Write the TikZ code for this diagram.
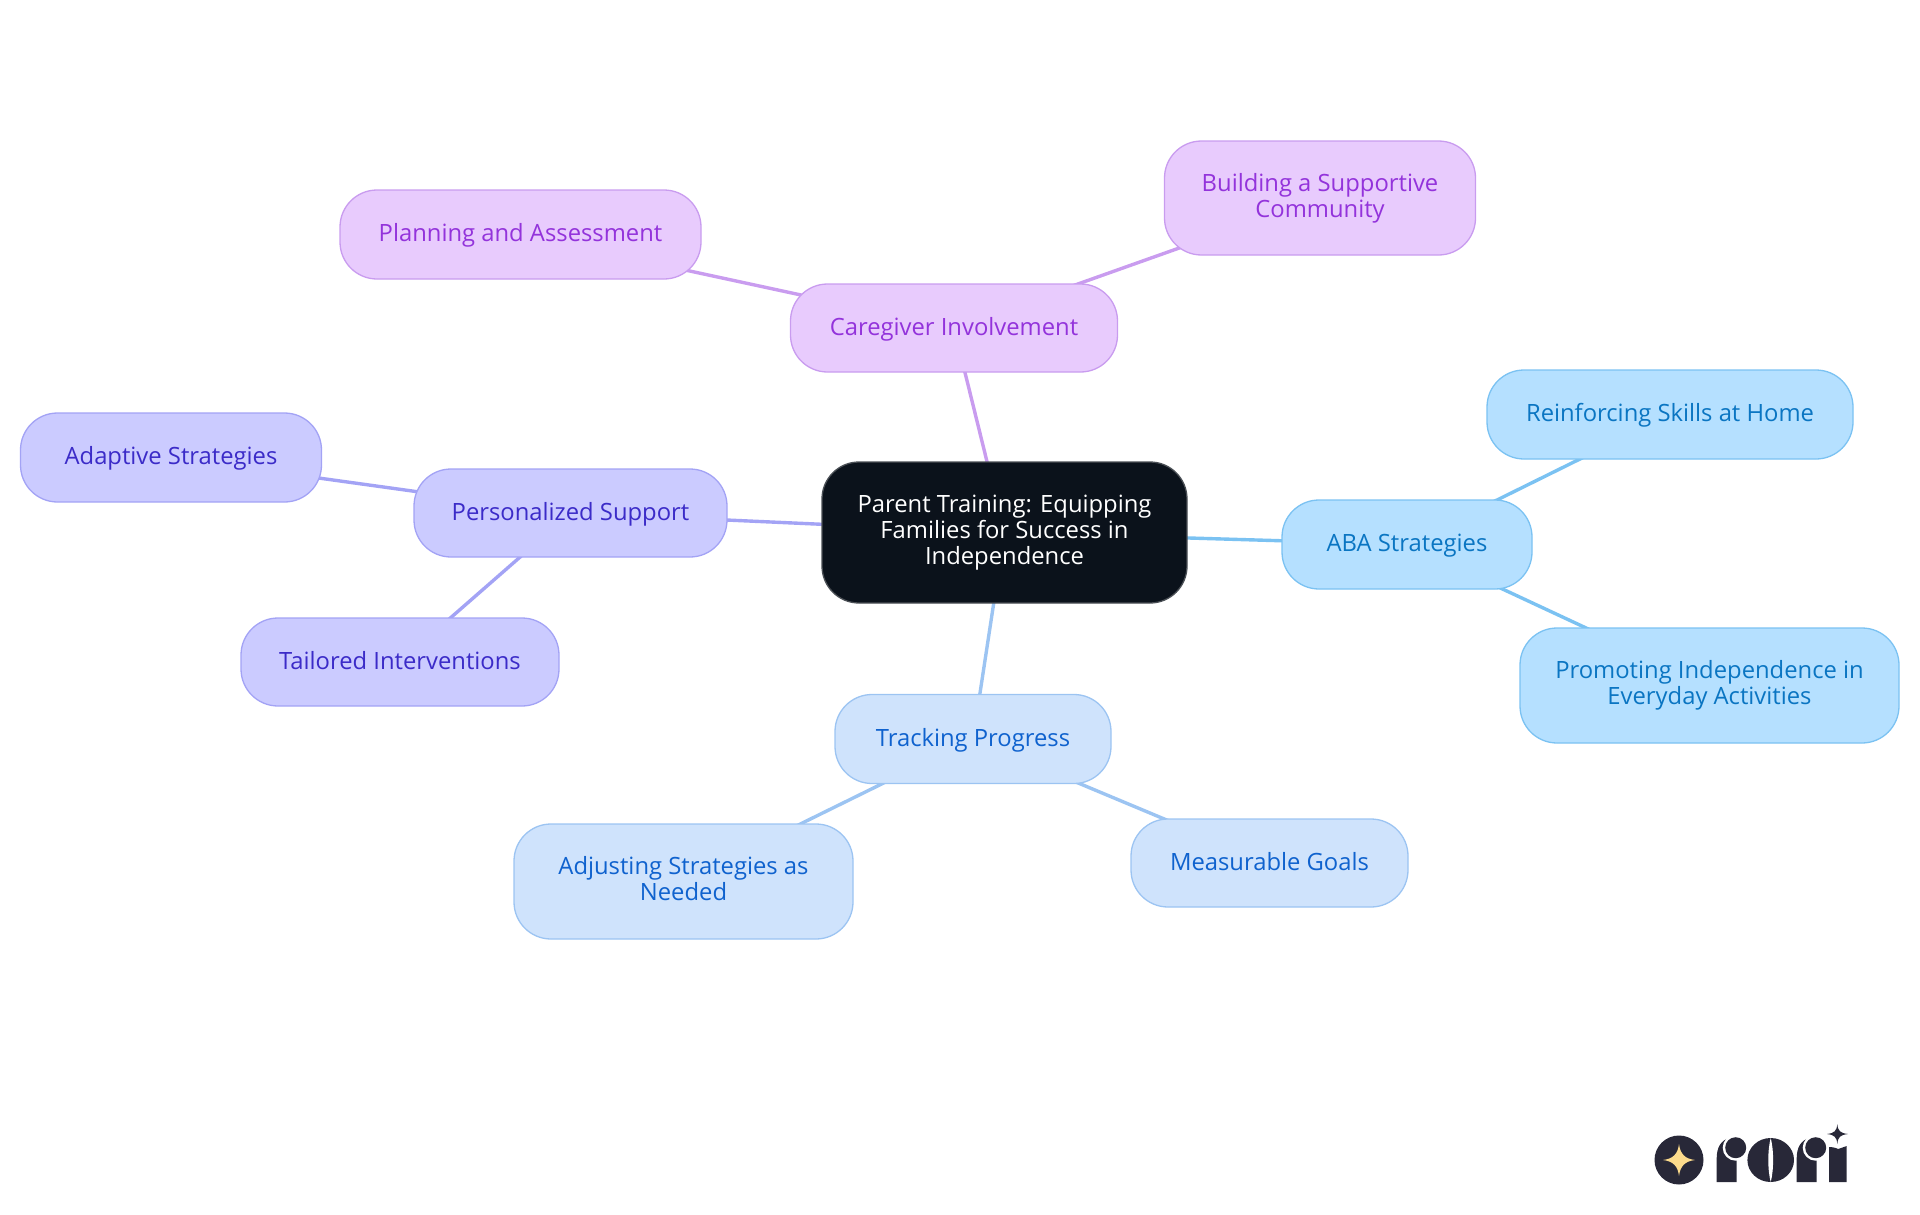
\documentclass[tikz,border=0pt]{standalone}
\usepackage{fontspec}
\setmainfont{Open Sans}
\usepackage{tikz}
\usetikzlibrary{shapes, backgrounds}
\definecolor{rootfill}{HTML}{0B121B}
\definecolor{rootdraw}{HTML}{4A4F55}
\definecolor{pinkfill}{HTML}{E8CBFD}
\definecolor{pinkdraw}{HTML}{C99CEF}
\definecolor{pinktext}{HTML}{9333DB}
\definecolor{violetfill}{HTML}{CBCBFF}
\definecolor{violetdraw}{HTML}{A3A3F5}
\definecolor{violettext}{HTML}{3B2BC8}
\definecolor{skyfill}{HTML}{B5E0FF}
\definecolor{skydraw}{HTML}{7BC2F2}
\definecolor{skytext}{HTML}{0A75C2}
\definecolor{bluefill}{HTML}{CFE3FC}
\definecolor{bluedraw}{HTML}{9CC4F2}
\definecolor{bluetext}{HTML}{0F62CE}
\definecolor{logodark}{HTML}{282838}
\definecolor{logostar}{HTML}{FCDB8C}
\newcommand{\mstrut}{\rule[-5.6pt]{0pt}{25.6pt}}
\tikzstyle{mnode} = [draw, rounded corners = 37pt, line width = 1.3pt, inner sep = 0pt, align = center, font = \fontsize{23.8}{26}\selectfont, execute at begin node = \mstrut, execute at end node = \mstrut]
\tikzstyle{root} = [mnode, fill = rootfill, draw = rootdraw, text = white]
\tikzstyle{pnode} = [mnode, fill = pinkfill, draw = pinkdraw, text = pinktext]
\tikzstyle{vnode} = [mnode, fill = violetfill, draw = violetdraw, text = violettext]
\tikzstyle{snode} = [mnode, fill = skyfill, draw = skydraw, text = skytext]
\tikzstyle{bnode} = [mnode, fill = bluefill, draw = bluedraw, text = bluetext]
\tikzstyle{pline} = [draw = pinkdraw, line width = 3.4pt]
\tikzstyle{vline} = [draw = violetdraw, line width = 3.4pt]
\tikzstyle{sline} = [draw = skydraw, line width = 3.4pt]
\tikzstyle{bline} = [draw = bluedraw, line width = 3.4pt]
\begin{document}
\begin{tikzpicture}[x=1pt, y=-1pt]
			\useasboundingbox (0, 0) rectangle (1920, 1215);

			\node [root, minimum width = 365pt, minimum height = 141pt] (root) at (1004.5, 532.5) {Parent Training: Equipping\\Families for Success in\\Independence};

			\node [pnode, minimum width = 327pt, minimum height = 88pt] (care) at (954, 328) {Caregiver Involvement};
			\node [pnode, minimum width = 361pt, minimum height = 89pt] (plan) at (520.5, 234.5) {Planning and Assessment};
			\node [pnode, minimum width = 311pt, minimum height = 114pt] (comm) at (1320, 198) {Building a Supportive\\Community};

			\node [vnode, minimum width = 313pt, minimum height = 88pt] (pers) at (570.5, 513) {Personalized Support};
			\node [vnode, minimum width = 301pt, minimum height = 89pt] (adap) at (171, 457.5) {Adaptive Strategies};
			\node [vnode, minimum width = 318pt, minimum height = 88pt] (tail) at (400, 662) {Tailored Interventions};

			\node [snode, minimum width = 250pt, minimum height = 89pt] (aba) at (1407, 544.5) {ABA Strategies};
			\node [snode, minimum width = 366pt, minimum height = 89pt] (home) at (1670, 414.5) {Reinforcing Skills at Home};
			\node [snode, minimum width = 379pt, minimum height = 115pt] (indp) at (1709.5, 685.5) {Promoting Independence in\\Everyday Activities};

			\node [bnode, minimum width = 276pt, minimum height = 89pt] (track) at (973, 739) {Tracking Progress};
			\node [bnode, minimum width = 339pt, minimum height = 115pt] (adju) at (683.5, 881.5) {Adjusting Strategies as\\Needed};
			\node [bnode, minimum width = 277pt, minimum height = 88pt] (goal) at (1269.5, 863) {Measurable Goals};

			\begin{pgfonlayer}{background}
			\path [pline] (root.center) -- (care.center);
			\path [pline] (care.center) -- (plan.center);
			\path [pline] (care.center) -- (comm.center);
			\path [vline] (root.center) -- (pers.center);
			\path [vline] (pers.center) -- (adap.center);
			\path [vline] (pers.center) -- (tail.center);
			\path [sline] (root.center) -- (aba.center);
			\path [sline] (aba.center) -- (home.center);
			\path [sline] (aba.center) -- (indp.center);
			\path [bline] (root.center) -- (track.center);
			\path [bline] (track.center) -- (adju.center);
			\path [bline] (track.center) -- (goal.center);
			\end{pgfonlayer}

			% logo
			\fill [logodark] (1679, 1160) circle (24.5);
			\fill [logostar] (1679, 1144) .. controls (1680.2, 1154) and (1685, 1158.8) .. (1695, 1160) .. controls (1685, 1161.2) and (1680.2, 1166) .. (1679, 1176) .. controls (1677.8, 1166) and (1673, 1161.2) .. (1663, 1160) .. controls (1673, 1158.8) and (1677.8, 1154) .. (1679, 1144) -- cycle;
			\foreach \rx in {1716.7, 1796.7} {
				\fill [logodark] (\rx, 1182) -- (\rx, 1158) .. controls (\rx, 1148) and (\rx + 4, 1140) .. (\rx + 13, 1138) -- (\rx + 20, 1138) -- (\rx + 20, 1182) -- cycle;
				\fill [white] (\rx + 19, 1147.7) circle (13);
				\fill [white] (\rx + 20, 1155) rectangle (\rx + 26, 1182);
				\fill [logodark] (\rx + 19, 1147.7) circle (10.5);
			}
			\fill [logodark] (1770.7, 1160) ellipse (23.3 and 22);
			\fill [white] (1770.7, 1138) .. controls (1767.5, 1150) and (1767.5, 1170) .. (1770.7, 1182) .. controls (1773.9, 1170) and (1773.9, 1150) .. (1770.7, 1138) -- cycle;
			\fill [logodark] (1829, 1182) -- (1829, 1147) .. controls (1835, 1147) and (1838, 1149) .. (1838, 1149) .. controls (1841, 1148) and (1844, 1147) .. (1846.7, 1146) -- (1846.7, 1182) -- cycle;
			\fill [logodark] (1837.3, 1124) .. controls (1838, 1131) and (1840, 1133) .. (1848, 1134) .. controls (1840, 1135) and (1838, 1137) .. (1837.3, 1144) .. controls (1836.6, 1137) and (1834.6, 1135) .. (1827, 1134) .. controls (1834.6, 1133) and (1836.6, 1131) .. (1837.3, 1124) -- cycle;
		\end{tikzpicture}
\end{document}
